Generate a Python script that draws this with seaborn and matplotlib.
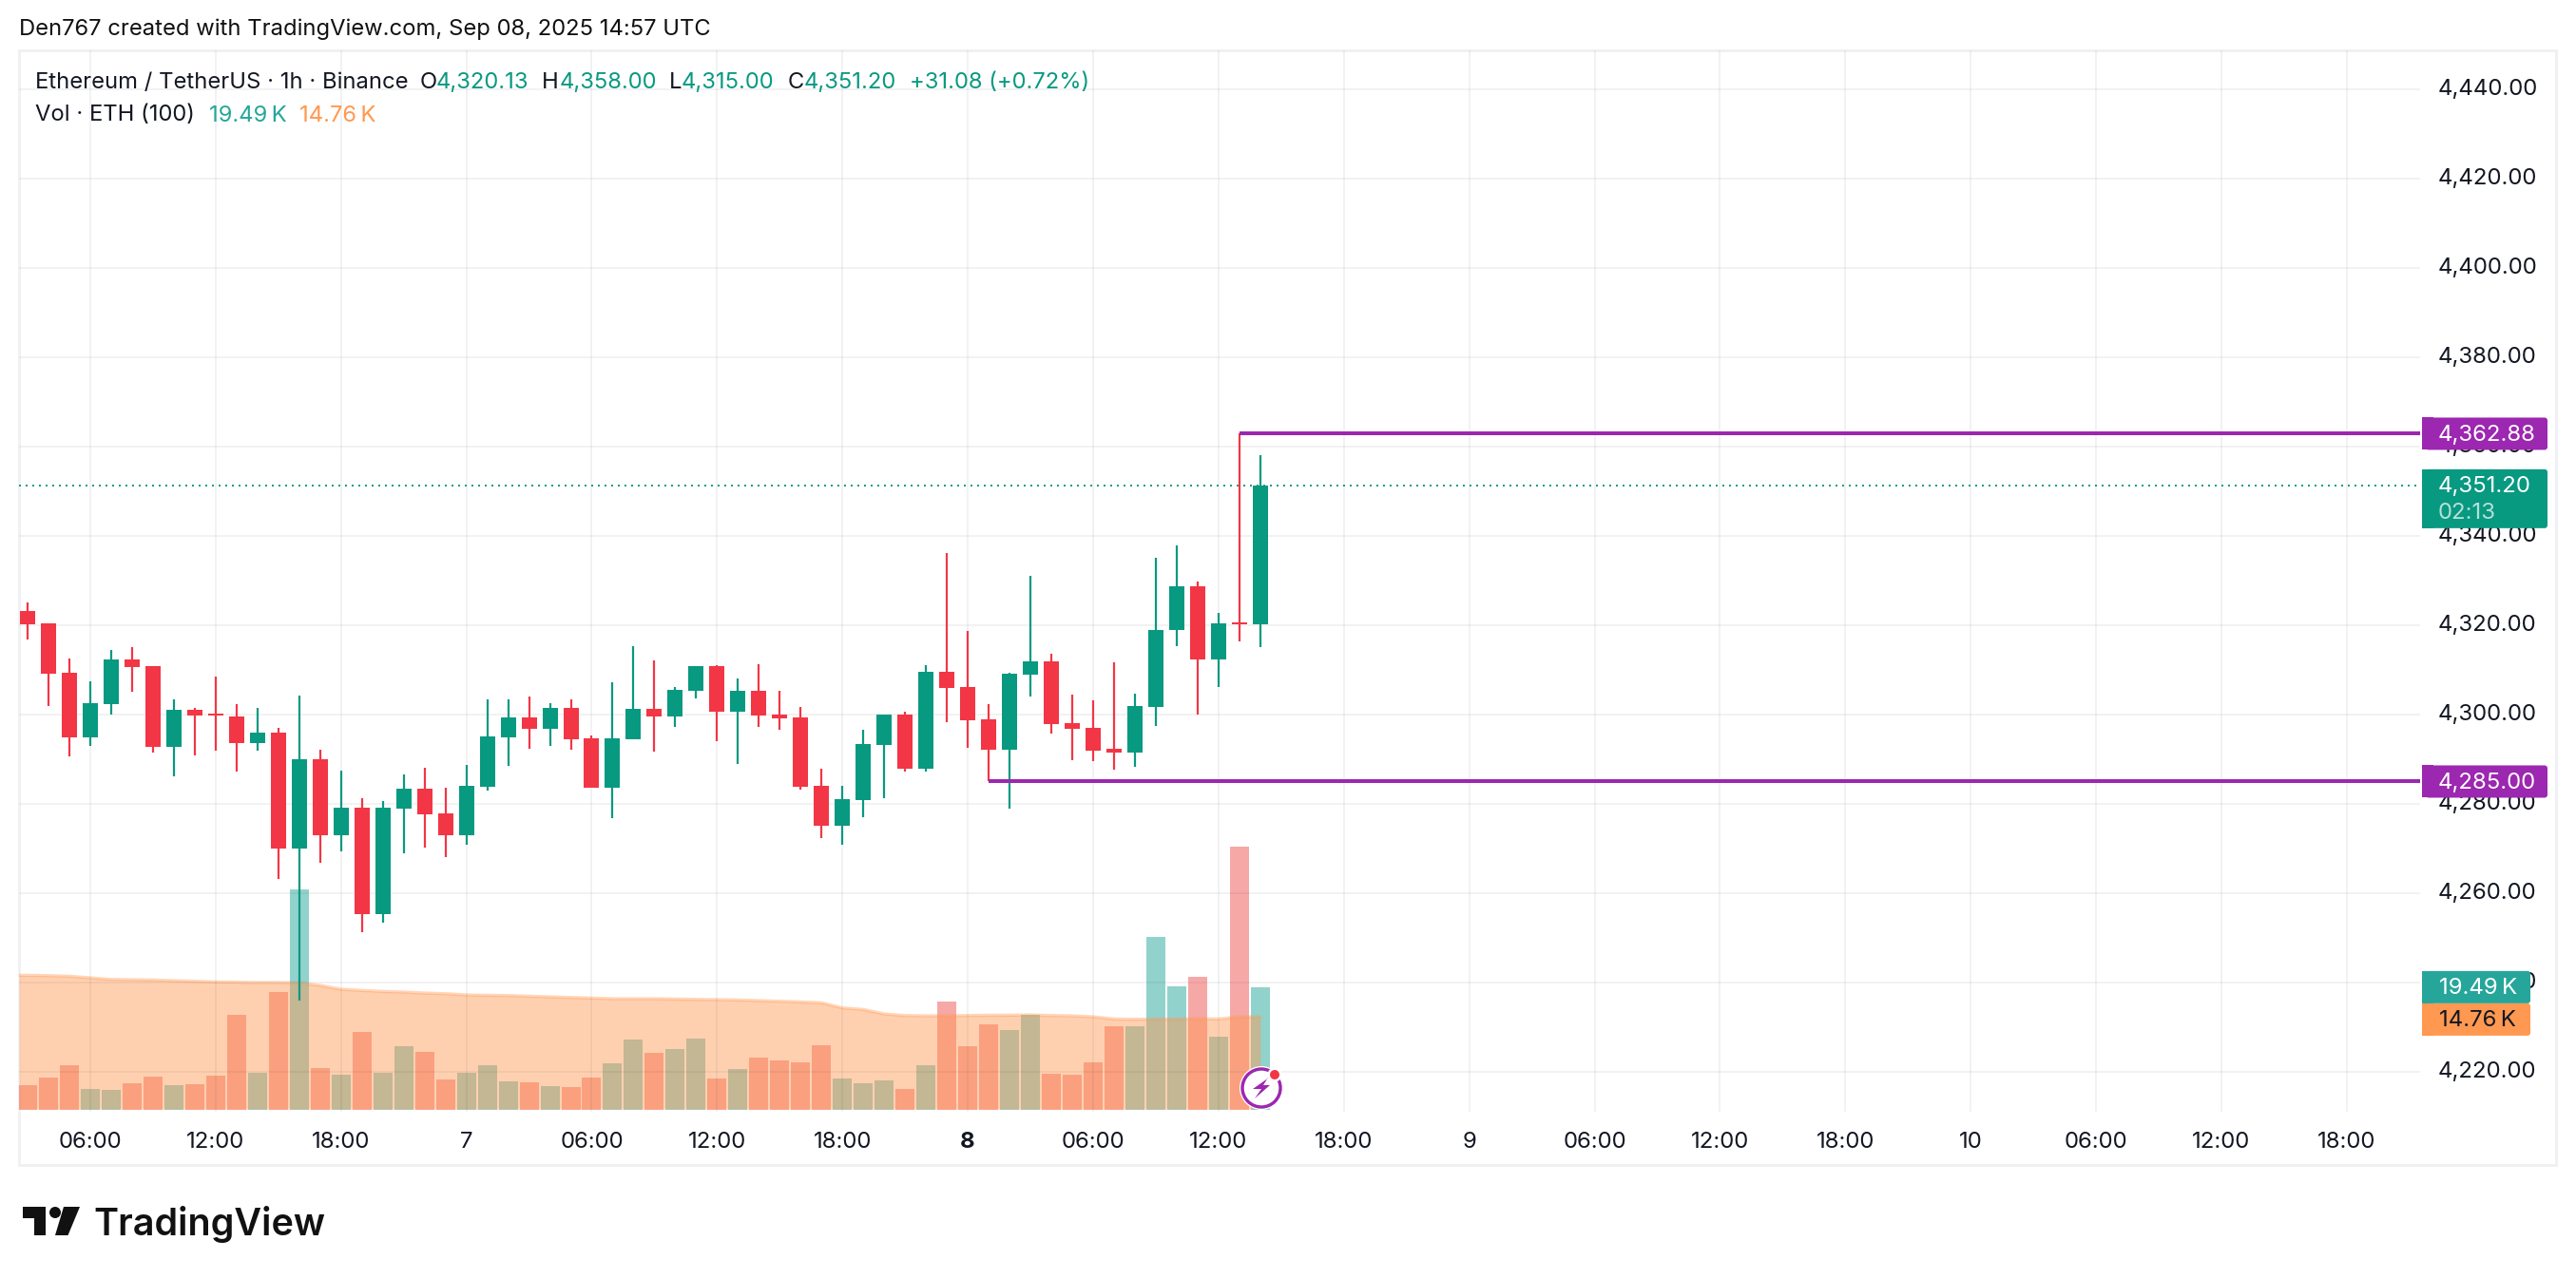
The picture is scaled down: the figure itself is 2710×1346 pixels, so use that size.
import matplotlib
matplotlib.use("Agg")
import matplotlib.pyplot as plt
from matplotlib.patches import Rectangle, FancyBboxPatch, Circle, Polygon
from matplotlib.transforms import IdentityTransform
import numpy as np
import pandas as pd
import seaborn as sns

opens = [4323.19,4320.43,4309.36,4294.89,4302.34,4312.34,4310.85,4292.77,4301.06,4300.21,
         4299.57,4293.62,4295.96,4270.00,4290.00,4272.98,4279.15,4255.32,4278.94,4283.40,
         4277.87,4272.98,4283.83,4294.89,4299.36,4296.81,4301.49,4294.68,4283.62,4294.47,
         4301.28,4299.57,4305.32,4310.85,4300.64,4305.32,4300.00,4299.36,4284.04,4275.11,
         4280.85,4293.19,4300.00,4287.87,4309.57,4306.17,4298.94,4292.13,4308.94,4311.91,
         4298.09,4297.02,4292.34,4291.49,4301.70,4318.94,4328.72,4312.34,4320.64,4320.13]
highs = [4325.11,4320.43,4312.55,4307.45,4314.47,4315.11,4310.85,4303.40,4301.49,4308.51,
         4302.34,4301.49,4297.02,4304.26,4292.13,4287.45,4281.28,4280.64,4286.60,4288.09,
         4283.62,4288.72,4303.40,4303.40,4304.04,4302.55,4303.40,4295.32,4307.23,4315.32,
         4312.13,4306.17,4310.85,4311.06,4308.09,4311.28,4305.32,4301.70,4287.87,4284.04,
         4296.60,4300.00,4300.64,4311.06,4336.17,4318.72,4302.34,4309.36,4331.06,4313.62,
         4304.47,4303.19,4311.70,4304.68,4335.11,4337.87,4329.79,4322.77,4362.88,4358.00]
lows = [4316.81,4301.91,4290.64,4292.98,4300.00,4305.11,4291.49,4286.17,4290.85,4291.91,
        4287.23,4291.91,4263.19,4236.03,4266.81,4269.36,4251.28,4253.40,4268.94,4270.21,
        4268.09,4270.85,4282.98,4288.51,4292.34,4292.98,4292.13,4283.62,4276.81,4294.47,
        4291.70,4297.23,4303.62,4294.04,4288.94,4297.23,4296.60,4283.19,4272.34,4270.85,
        4277.02,4281.28,4287.23,4287.23,4298.30,4292.55,4285.10,4278.94,4304.04,4295.74,
        4289.79,4289.57,4287.66,4288.30,4297.45,4315.32,4300.00,4306.17,4316.38,4315.00]
closes = [4320.21,4309.15,4294.89,4302.55,4312.34,4310.64,4292.77,4301.06,4299.79,4299.79,
          4293.62,4295.96,4270.00,4290.00,4272.98,4279.15,4255.32,4279.15,4283.40,4277.66,
          4272.98,4284.04,4295.11,4299.36,4296.81,4301.49,4294.47,4283.62,4294.68,4301.28,
          4299.57,4305.53,4310.85,4300.64,4305.32,4299.79,4299.15,4283.83,4275.11,4281.06,
          4293.40,4300.00,4287.87,4309.57,4305.96,4298.72,4292.13,4309.15,4311.91,4297.87,
          4296.81,4291.91,4291.49,4301.91,4318.94,4328.72,4312.34,4320.43,4320.21,4351.20]
volume_k = [3.96,5.17,7.12,3.36,3.21,4.26,5.32,3.96,4.11,5.47,15.10,5.92,18.72,35.00,6.67,
            5.62,12.39,5.92,10.14,9.23,4.87,5.92,7.12,4.57,4.42,3.81,3.66,5.17,7.43,11.19,
            9.08,9.68,11.34,5.02,6.52,8.33,7.88,7.58,10.29,5.02,4.26,4.72,3.36,7.12,17.21,
            10.14,13.60,12.69,15.10,5.77,5.62,7.58,13.30,13.30,27.45,19.62,21.12,11.64,41.75,19.49]
volume_ma_k = [21.37,21.32,21.22,20.97,20.72,20.67,20.62,20.52,20.42,20.32,20.27,20.22,20.22,
               20.17,19.77,19.17,18.97,18.82,18.72,18.56,18.46,18.26,18.21,18.16,18.06,17.96,
               17.86,17.76,17.66,17.66,17.66,17.61,17.56,17.51,17.46,17.36,17.26,17.16,17.01,
               16.21,15.96,15.25,15.00,14.95,14.95,15.00,15.05,15.05,15.10,15.00,14.95,14.80,
               14.45,14.40,14.45,14.45,14.50,14.45,14.80,14.76]
price_ticks = [4220,4240,4260,4280,4300,4320,4340,4360,4380,4400,4420,4440]
time_labels = ["06:00","12:00","18:00","7","06:00","12:00","18:00","8","06:00","12:00","18:00",
               "9","06:00","12:00","18:00","10","06:00","12:00","18:00"]
time_positions = [3,9,15,21,27,33,39,45,51,57,63,69,75,81,87,93,99,105,111]
level_high = 4362.88
level_low = 4285.00
last_price = 4351.20
last_vol = 19.49
last_ma = 14.76

W, H = 2710, 1346
GREEN, RED = "#089981", "#F23645"
VGREEN, VRED = "#26A69A", "#EF5350"
ORANGE, PURPLE, INK = "#FF9850", "#9C27B0", "#131722"
FONT = "Inter"
px = 0.72

sns.set_theme(style="white", rc={"font.family": FONT, "axes.facecolor": "none",
                                 "figure.facecolor": "white", "text.color": INK})
fig = plt.figure(figsize=(W / 100, H / 100), dpi=100)
L, R, T, B = 20, 2546, 53, 1170
rect = [L / W, 1 - B / H, (R - L) / W, (B - T) / H]
ax_vol = fig.add_axes(rect, zorder=1)
ax = fig.add_axes(rect, zorder=2)

idx = np.arange(len(closes))
xlim = (-0.41, 114.51)

# volume pane
colors = ["up" if c >= o else "down" for o, c in zip(opens, closes)]
vol_df = pd.DataFrame({"i": idx, "v": volume_k, "d": colors})
sns.barplot(data=vol_df, x="i", y="v", hue="d", palette={"up": VGREEN, "down": VRED},
            native_scale=True, dodge=False, width=0.91, alpha=0.5, saturation=1,
            legend=False, ax=ax_vol, linewidth=0)
ma_x = np.r_[xlim[0], idx]
ma_y = np.r_[volume_ma_k[0], volume_ma_k]
ax_vol.fill_between(ma_x, 0.2, ma_y, color=ORANGE, alpha=0.45, lw=0)
sns.lineplot(x=ma_x, y=ma_y, color=ORANGE, alpha=0.4, lw=2.4, ax=ax_vol, errorbar=None, sort=False)
ax_vol.set_xlim(*xlim)
ax_vol.set_ylim(-0.24, 167.85)
ax_vol.axis("off")

# candles
ax.set_axisbelow(True)
ax.grid(True, color="#2A2E39", alpha=0.06, lw=2 * px)
candle_colors = [GREEN if c >= o else RED for o, c in zip(opens, closes)]
ax.vlines(idx, lows, highs, colors=candle_colors, lw=2.2 * px, zorder=3)
body_bottom = np.minimum(opens, closes)
body_h = np.abs(np.array(closes) - np.array(opens))
ax.bar(idx, body_h, bottom=body_bottom, width=0.728, color=candle_colors, lw=0, zorder=4)

ax.axhline(last_price, color=GREEN, lw=1.4, ls=(0, (1, 2.6)), zorder=2)
ax.hlines(level_high, 58, xlim[1], color=PURPLE, lw=4 * px, zorder=5)
ax.hlines(level_low, 46, xlim[1], color=PURPLE, lw=4 * px, zorder=5)

ax.set_xlim(*xlim)
ax.set_ylim(4211.06, 4448.72)
ax.yaxis.tick_right()
ax.set_yticks(price_ticks)
ax.set_yticklabels([f"{p:,.2f}" for p in price_ticks], fontsize=24 * px, color=INK, ha="left", va="center")
ax.set_xticks(time_positions)
ax.set_xticklabels(time_labels, fontsize=24 * px, color=INK)
ax.tick_params(axis="y", length=0, pad=19 * px)
ax.tick_params(axis="x", length=0, pad=21 * px)
for lab in ax.get_xticklabels():
    if lab.get_text() == "8":
        lab.set_fontweight("bold")
for s in ax.spines.values():
    s.set_visible(False)

# outer frame
fig.add_artist(Rectangle((L / W, 1 - 1226 / H), (2689 - L) / W, (1226 - T) / H, transform=fig.transFigure,
                         fill=False, ec="#F0F1F3", lw=3 * px, zorder=0))


def tag(y_px_center, h, x0, x1, color, zorder=6):
    """Price-scale tag in pixel coordinates, square on the left and rounded on the right."""
    y0 = y_px_center - h / 2
    fig.add_artist(FancyBboxPatch((x0 + 6, y0 + 2), x1 - x0 - 8, h - 4, boxstyle="round,pad=2,rounding_size=3",
                                  transform=IdentityTransform(), fc=color, ec="none", zorder=zorder))
    fig.add_artist(Rectangle((x0, y0), 12, h, transform=IdentityTransform(), fc=color, ec="none", zorder=zorder))


def price_y(p):
    return ax.transData.transform((0, p))[1]


def vol_y(v):
    return ax_vol.transData.transform((0, v))[1]


def px_text(x, y, s, color=INK, size=24, ha="left", va="center", **kw):
    fig.text(x / W, y / H, s, color=color, fontsize=size * px, ha=ha, va=va, zorder=8, **kw)


# price tags
TX = 2565
for p in (level_high, level_low):
    y = price_y(p)
    tag(y, 34, 2548, 2680, PURPLE)
    px_text(TX, y - 1.5, f"{p:,.2f}", "white")
y = price_y(last_price)
tag(y - 13.5, 62, 2548, 2680, GREEN)
px_text(TX, y - 0.5, f"{last_price:,.2f}", "white")
px_text(TX, y - 28.5, "02:13", "#B5E0D9")
# volume tags
y = vol_y(last_vol)
tag(y, 34, 2548, 2662, VGREEN)
px_text(2566, y - 1.5, f"{last_vol:.2f}\u2009K", "white")
y2 = y - 34
tag(y2, 34, 2548, 2662, ORANGE)
px_text(2566, y2 - 1.5, f"{last_ma:.2f}\u2009K", INK)

# header text
HS = 23.8
px_text(20, H - 31, "Den767 created with TradingView.com, Sep 08, 2025 14:57 UTC", "#111111", HS)
y1, y2 = H - 87, H - 121.5
px_text(37, y1, "Ethereum / TetherUS \u00b7 1h \u00b7 Binance", INK, HS)
for x, s, c in [(442, "O", INK), (459, "4,320.13", GREEN), (570, "H", INK), (589, "4,358.00", GREEN),
                (704, "L", INK), (717, "4,315.00", GREEN), (829, "C", INK), (846, "4,351.20", GREEN),
                (957, "+31.08 (+0.72%)", GREEN)]:
    px_text(x, y1, s, c, HS)
px_text(37, y2, "Vol \u00b7 ETH (100)", INK, HS)
px_text(220, y2, "19.49\u2009K", VGREEN, HS)
px_text(315, y2, "14.76\u2009K", ORANGE, HS)

# bolt badge
cx, cy = 1327, H - 1145
id_t = IdentityTransform()
fig.add_artist(Circle((cx, cy), 23, transform=id_t, fc="white", ec="none", zorder=6))
fig.add_artist(Circle((cx, cy), 20, transform=id_t, fc="white", ec=PURPLE, lw=3.4 * px, zorder=6))
bolt = [(8, 11), (-9, -1), (0, -1), (-7, -11), (9, 3), (2, 3), (7, 11)]
fig.add_artist(Polygon([(cx + a, cy + b) for a, b in bolt], transform=id_t, fc=PURPLE, ec="none", zorder=7))
fig.add_artist(Circle((cx + 14, cy + 14), 7.5, transform=id_t, fc="white", ec="none", zorder=7))
fig.add_artist(Circle((cx + 14, cy + 14), 5, transform=id_t, fc=RED, ec="none", zorder=8))

# TradingView logo
LOGO = "#111111"
logo_polys = [[(24, 1270), (48, 1270), (48, 1300), (36, 1300), (36, 1282), (24, 1282)],
              [(67, 1270), (84, 1270), (71.5, 1300), (58, 1300)]]
for poly in logo_polys:
    fig.add_artist(Polygon([(a, H - b) for a, b in poly], transform=id_t, fc=LOGO, ec="none", zorder=7))
fig.add_artist(Circle((58, H - 1276), 6, transform=id_t, fc=LOGO, ec="none", zorder=7))
px_text(98, H - 1300, "TradingView", LOGO, 39.5, va="baseline", fontweight="semibold")

fig.savefig("out.png", dpi=100)
